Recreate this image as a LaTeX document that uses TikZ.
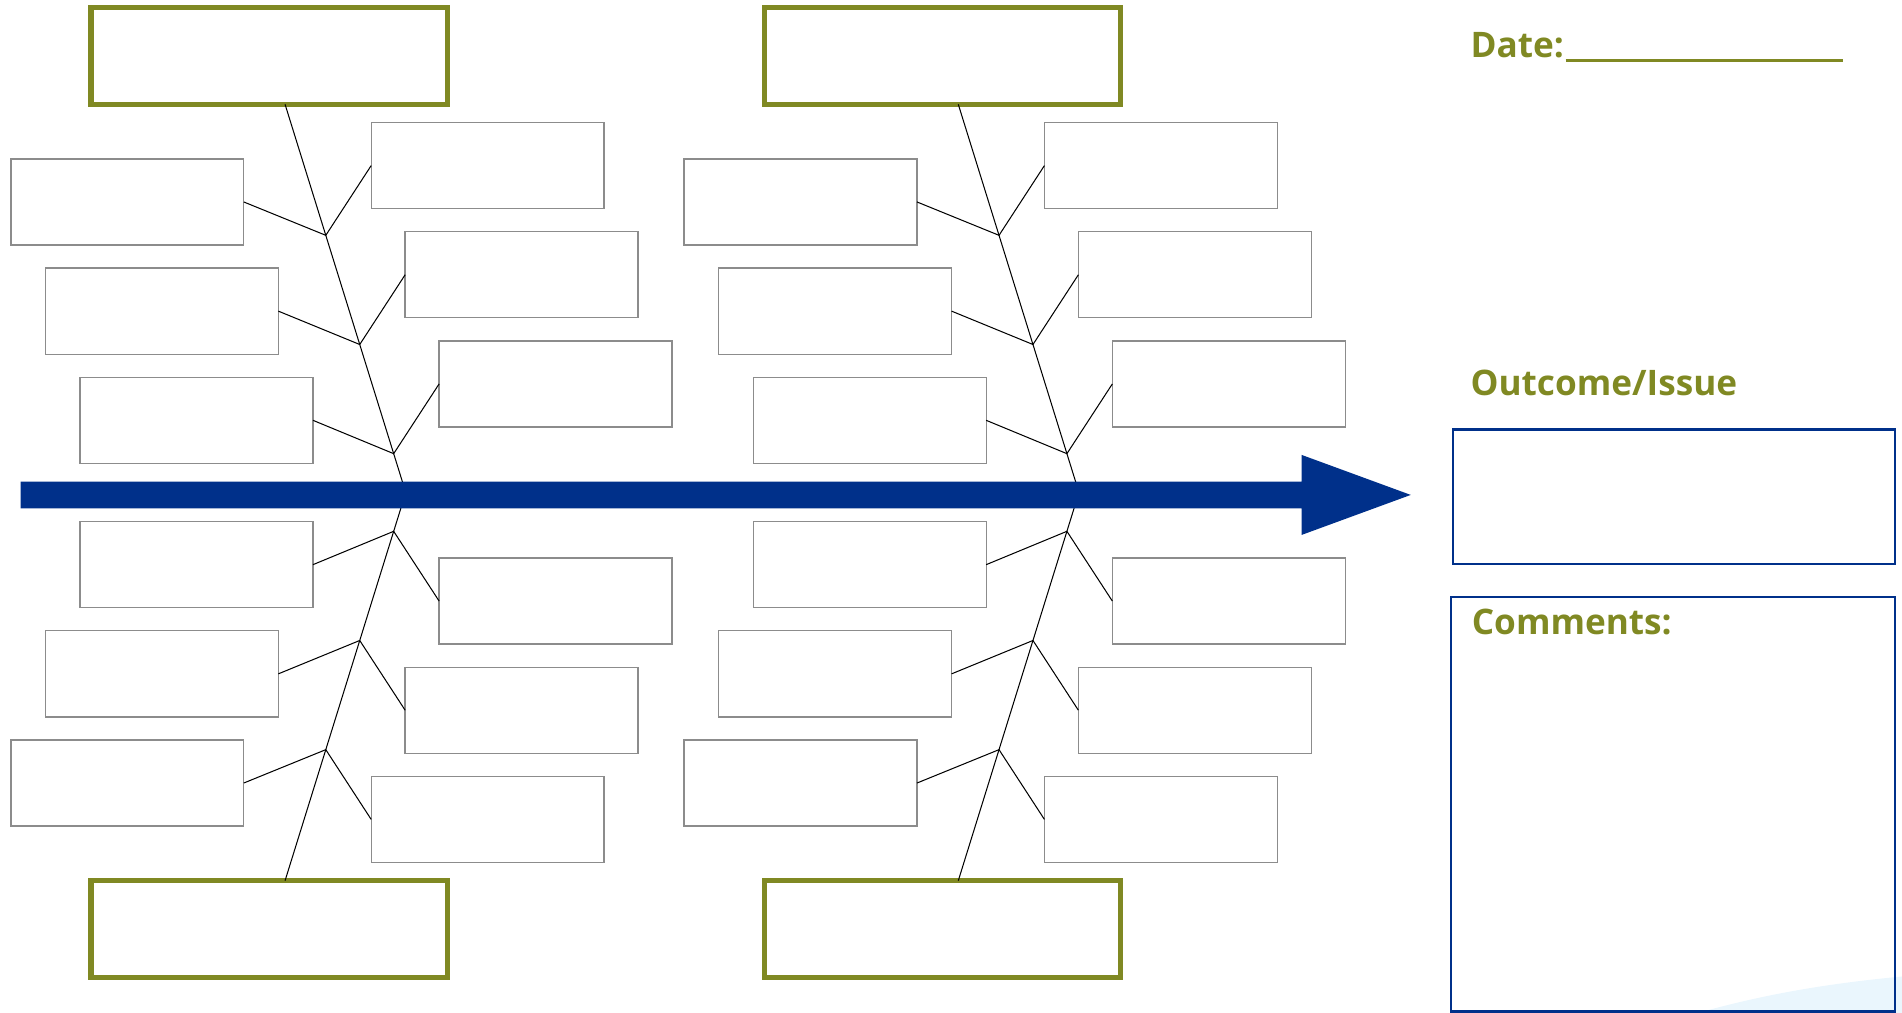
\documentclass[tikz,border=0pt]{standalone}
\usepackage{fontspec}
\setmainfont{Open Sans}
\usepackage{xcolor}
\definecolor{headolive}{HTML}{808923}
\definecolor{axisblue}{HTML}{00308A}
\definecolor{boxgray}{HTML}{8C8C8C}
\definecolor{swooshblue}{HTML}{EAF6FD}
\usepackage{tikz}
\usetikzlibrary{calc}

\begin{document}
\begin{tikzpicture}[
  x=0.2mm, y=-0.2mm,
  font=\fontsize{16.5}{20}\selectfont\bfseries,
  cause/.style={draw=boxgray, line width=0.22mm, minimum width=38.4mm,
    minimum height=14.2mm, inner sep=0pt, outer sep=0pt, anchor=north west},
  head/.style={draw=headolive, line width=0.85mm, minimum width=58.8mm,
    minimum height=16mm, inner sep=0pt, outer sep=0pt, anchor=north west},
  bone/.style={black, line width=0.17mm},
  panel/.style={draw=axisblue, line width=0.4mm, inner sep=0pt, outer sep=0pt,
    anchor=north west},
  lbl/.style={text=headolive, anchor=base west, inner sep=0pt}
]
\useasboundingbox (0,0) rectangle (1568,835);

% two fishbones
\foreach \ox/\k in {0/a,555/b}{
  \node[head] (T\k) at ({\ox+75},6) {};
  \node[head] (B\k) at ({\ox+75},726) {};
  \coordinate (S\k) at ($(T\k.south west)+(160,0)$);
  \coordinate (E\k) at ($(B\k.north west)+(160,0)$);
  \coordinate (M\k) at ({\ox+334.5},406);
  \draw[bone] (S\k) -- (M\k) -- (E\k);
  \foreach \i in {0,1,2}{
    % upper half
    \node[cause] (L\k\i) at ({\ox+9+28.5*\i},{131+90*\i}) {};
    \node[cause] (R\k\i) at ({\ox+306+28*\i},{101+90*\i}) {};
    \coordinate (J\k\i) at ($(S\k)!{(108+90*\i)/320}!(M\k)$);
    \draw[bone] (L\k\i.east) -- (J\k\i) -- (R\k\i.west);
    % lower half
    \node[cause] (LL\k\i) at ({\ox+9+28.5*\i},{610-90*\i}) {};
    \node[cause] (RR\k\i) at ({\ox+306+28*\i},{640-90*\i}) {};
    \coordinate (JJ\k\i) at ($(E\k)!{(108+90*\i)/320}!(M\k)$);
    \draw[bone] (LL\k\i.east) -- (JJ\k\i) -- (RR\k\i.west);
  }
}

% main axis
\fill[axisblue] (17,397) -- (1073,397) -- (1073,375) -- (1163,408)
  -- (1073,441) -- (1073,419) -- (17,419) -- cycle;

% right panel
\node[lbl] (date) at (1212,47) {Date:};
\coordinate (dateend) at (1519,50);
\draw[headolive, line width=0.4mm] ($(date.base east)+(1,3)$) -- (dateend);

\node[lbl] (outlbl) at (1212,326) {Outcome/Issue};
\node[panel, minimum width=72.8mm, minimum height=22.2mm] (outcome) at (1198,354) {};

\fill[swooshblue] (1400,835) .. controls (1460,818) and (1515,810) .. (1568,805)
  -- (1568,835) -- cycle;
\node[panel, minimum width=73.2mm, minimum height=68.4mm] (comments) at (1196,492) {};
\node[lbl] (comlbl) at (1213,523) {Comments:};
\end{tikzpicture}
\end{document}
